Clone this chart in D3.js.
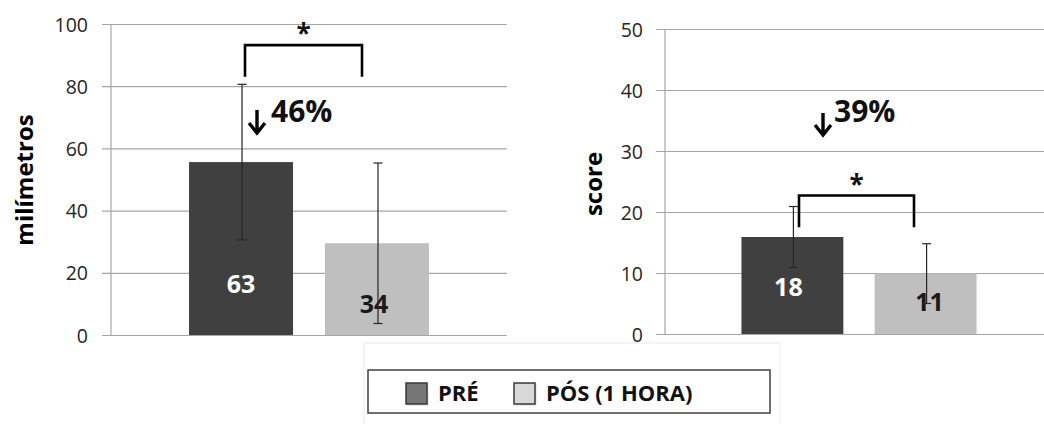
<!DOCTYPE html>
<html><head><meta charset="utf-8">
<script src="https://cdn.jsdelivr.net/npm/d3@7"></script>
<style>
html,body{margin:0;padding:0;background:#fff;}
svg{display:block;}
text{font-family:"Open Sans",sans-serif;}
</style></head>
<body>
<svg id="c" width="1044" height="424"></svg>
<script>
// ---- data ----
const categories = ["PRÉ", "PÓS (1 HORA)"];
const mmMeans = [55.6, 29.5];
const mmErrors = [25.0, 25.8];
const mmLabels = ["63", "34"];
const mmTicks = [0, 20, 40, 60, 80, 100];
const scoreMeans = [15.9, 9.9];
const scoreErrors = [5.0, 4.9];
const scoreLabels = ["18", "11"];
const scoreTicks = [0, 10, 20, 30, 40, 50];
const reductions = ["46%", "39%"];
const yTitles = ["milímetros", "score"];

const barColors = ["#404040", "#bfbfbf"];
const labelColors = ["#ffffff", "#1a1a1a"];
const legendColors = ["#767676", "#d9d9d9"];

const svg = d3.select("#c");

function panel(cfg) {
  const g = svg.append("g");
  const x = d3.scaleBand().domain(categories).range([cfg.x0, cfg.x1])
    .paddingInner(0.235).paddingOuter(0.574);
  const y = d3.scaleLinear().domain([0, cfg.max]).range([cfg.y0, cfg.y1]);

  // grid + axis
  const ax = d3.axisLeft(y).tickValues(cfg.ticks).tickSize(-(cfg.x1 - cfg.x0)).tickPadding(cfg.pad);
  const axG = g.append("g").attr("transform", `translate(${cfg.x0},0)`).call(ax);
  axG.select(".domain").remove();
  axG.selectAll(".tick line").attr("stroke", "#a6a6a6").attr("stroke-width", 1.2).attr("x1", -9);
  axG.selectAll(".tick text").attr("fill", "#262626").style("font-size", "19.5px")
    .attr("dy", "0.36em");
  g.append("line").attr("x1", cfg.x0).attr("x2", cfg.x0).attr("y1", y(cfg.max)).attr("y2", y(0))
    .attr("stroke", "#a6a6a6").attr("stroke-width", 1.2);

  // bars
  g.selectAll("rect.bar").data(cfg.means).join("rect").attr("class", "bar")
    .attr("x", (d, i) => x(categories[i])).attr("width", x.bandwidth())
    .attr("y", d => y(d)).attr("height", d => y(0) - y(d))
    .attr("fill", (d, i) => barColors[i]);

  // value labels
  g.selectAll("text.val").data(cfg.labels).join("text").attr("class", "val")
    .attr("x", (d, i) => x(categories[i]) + x.bandwidth() / 2 + cfg.labelDx[i])
    .attr("y", (d, i) => cfg.labelY[i])
    .attr("text-anchor", "middle").attr("fill", (d, i) => labelColors[i])
    .style("font-size", "25px").style("font-weight", "700").text(d => d);

  // error bars
  cfg.means.forEach((m, i) => {
    const cx = x(categories[i]) + x.bandwidth() / 2 + cfg.errDx[i];
    const e = cfg.errors[i];
    const eg = g.append("g").attr("stroke", "#262626").attr("stroke-width", 1.2);
    eg.append("line").attr("x1", cx).attr("x2", cx).attr("y1", y(m + e)).attr("y2", y(m - e));
    eg.append("line").attr("x1", cx - 4.5).attr("x2", cx + 4.5).attr("y1", y(m + e)).attr("y2", y(m + e));
    eg.append("line").attr("x1", cx - 4.5).attr("x2", cx + 4.5).attr("y1", y(m - e)).attr("y2", y(m - e));
  });

  // significance bracket
  const bx0 = cfg.bracket[0], bx1 = cfg.bracket[1];
  const bt = y(cfg.bracket[2]), bb = y(cfg.bracket[3]);
  g.append("path").attr("d", `M${bx0},${bb}V${bt}H${bx1}V${bb}`)
    .attr("fill", "none").attr("stroke", "#000").attr("stroke-width", 2.6);
  g.append("text").attr("x", (bx0 + bx1) / 2).attr("y", bt - 2).attr("text-anchor", "middle")
    .style("font-size", "26px").style("font-weight", "700").attr("fill", "#111").text("*");

  // reduction arrow + text
  const [ax0, ay0, ay1] = cfg.arrow;
  g.append("path").attr("d", `M${ax0},${ay0}V${ay1}M${ax0 - 8},${ay1 - 10}L${ax0},${ay1}L${ax0 + 8},${ay1 - 10}`)
    .attr("fill", "none").attr("stroke", "#000").attr("stroke-width", 3.4).attr("stroke-linejoin", "miter");
  g.append("text").attr("x", cfg.pct[0]).attr("y", cfg.pct[1])
    .style("font-size", "30px").style("font-weight", "700").attr("fill", "#111").text(cfg.pctText);

  // y title
  g.append("text").attr("transform", `translate(${cfg.title[0]},${cfg.title[1]}) rotate(-90)`)
    .attr("text-anchor", "middle").attr("dy", "0.35em")
    .style("font-size", "24px").style("font-weight", "700").attr("fill", "#000").text(cfg.titleText);
}

panel({
  x0: 111, x1: 507, y0: 335, y1: 24, max: 100, ticks: mmTicks, pad: 23,
  means: mmMeans, errors: mmErrors, labels: mmLabels,
  labelDx: [0, -3], labelY: [293, 313], errDx: [1, 1],
  bracket: [245, 362, 93.2, 83], arrow: [257, 110, 133], pct: [271, 122], pctText: reductions[0],
  title: [25, 180], titleText: yTitles[0]
});

panel({
  x0: 665, x1: 1053, y0: 334, y1: 29, max: 50, ticks: scoreTicks, pad: 22,
  means: scoreMeans, errors: scoreErrors, labels: scoreLabels,
  labelDx: [-4, 4], labelY: [296, 311], errDx: [1, 1],
  bracket: [799, 914, 22.7, 17.5], arrow: [823, 113, 135], pct: [834, 122], pctText: reductions[1],
  title: [594, 184], titleText: yTitles[1]
});

// legend
const lg = svg.append("g");
lg.append("rect").attr("x", 364).attr("y", 343).attr("width", 416).attr("height", 90)
  .attr("fill", "#fff").attr("stroke", "#ececec").attr("stroke-width", 1);
lg.append("rect").attr("x", 368).attr("y", 370).attr("width", 402).attr("height", 43)
  .attr("fill", "#fff").attr("stroke", "#404040").attr("stroke-width", 1.5);
const legX = [406, 514];
categories.forEach((c, i) => {
  lg.append("rect").attr("x", legX[i] + 1.5).attr("y", 384.5).attr("width", 21).attr("height", 21)
    .attr("fill", "#bbb").attr("opacity", 0.5);
  lg.append("rect").attr("x", legX[i]).attr("y", 383).attr("width", 21).attr("height", 21)
    .attr("fill", legendColors[i]).attr("stroke", "#3a3a3a").attr("stroke-width", 1.5);
  lg.append("text").attr("x", legX[i] + 32).attr("y", 401)
    .style("font-size", "22px").style("font-weight", "700").attr("fill", "#111").text(c);
});
</script>
</body></html>
